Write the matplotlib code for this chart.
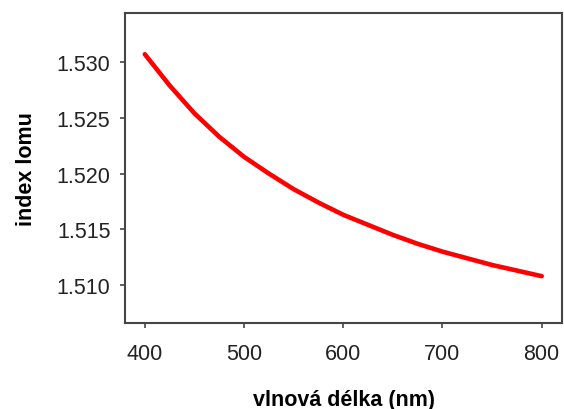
import matplotlib as mpl
mpl.use('Agg')
from matplotlib import pyplot as plt

# data
wavelength_nm = [400, 425, 450, 475, 500, 525, 550, 575, 600,
                 625, 650, 675, 700, 725, 750, 775, 800]
refr_index = [1.5307, 1.5279, 1.5254, 1.5233, 1.5215, 1.5200, 1.5186,
              1.5174, 1.5163, 1.5154, 1.5145, 1.5137, 1.5130, 1.5124,
              1.5118, 1.5113, 1.5108]
x_ticks = [400, 500, 600, 700, 800]
y_ticks = [1.510, 1.515, 1.520, 1.525, 1.530]

plt.rcParams['font.family'] = ['Liberation Sans', 'DejaVu Sans']

fig = plt.figure(figsize=(5.64, 4.10), dpi=100)
ax = fig.add_axes([0.2216, 0.2098, 0.7749, 0.7561])

ax.plot(wavelength_nm, refr_index, color='#ff0000', lw=3.3,
        solid_capstyle='round', solid_joinstyle='round')

ax.set_xlim(380, 820.5)
ax.set_ylim(1.5066, 1.5344)
ax.set_xticks(x_ticks)
ax.set_yticks(y_ticks)
ax.set_yticklabels([f'{v:.3f}' for v in y_ticks])

for sp in ax.spines.values():
    sp.set_color('#454545')
    sp.set_linewidth(1.5)
ax.tick_params(axis='both', direction='out', length=3.5, width=1.2,
               color='#454545', labelsize=15.5, labelcolor='#222222')
ax.tick_params(axis='y', pad=7)
ax.tick_params(axis='x', pad=11)

ax.set_xlabel('vlnová délka (nm)', fontsize=15.5, fontweight='bold',
              labelpad=18)
ax.set_ylabel('index lomu', fontsize=15.5, fontweight='bold', labelpad=14)

fig.savefig('out.png', dpi=100)
